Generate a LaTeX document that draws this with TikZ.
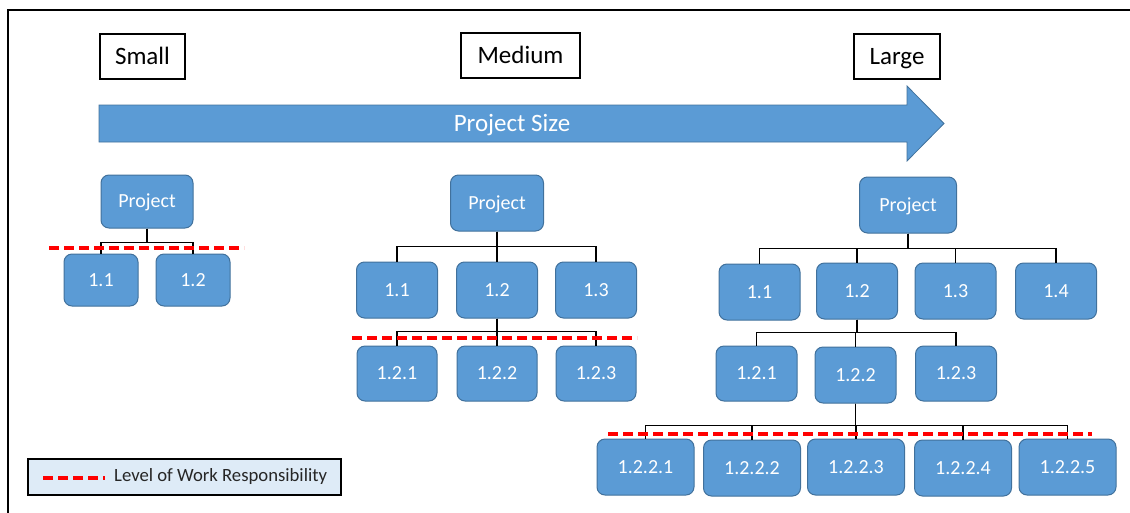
\documentclass[tikz,border=0pt]{standalone}
\usepackage{fontspec}
\setmainfont{Carlito}
\usepackage{xcolor}
\usepackage{tikz}
\usetikzlibrary{arrows.meta}
\definecolor{boxblue}{HTML}{5B9BD5}
\definecolor{boxedge}{HTML}{41719C}
\definecolor{legendblue}{HTML}{DEEBF7}

\begin{document}
\begin{tikzpicture}[x=1pt, y=-1pt,
    wbs/.style={draw=boxedge, fill=boxblue, rounded corners=8pt, line width=1pt,
      text=white, inner sep=0pt, font=\fontsize{20}{24}\selectfont,
      text height=14pt, text depth=1.4pt,
      minimum width=81pt, minimum height=56pt},
    sizebox/.style={draw=black, line width=1.3pt, inner sep=0pt,
      font=\fontsize{25}{30}\selectfont, text height=17.5pt, text depth=1.5pt,
      minimum height=45pt},
    bus/.style={draw=black, line width=1.4pt},
    resp/.style={draw=red, line width=3.2pt, dash pattern=on 10pt off 5pt}]
    \useasboundingbox (0,0) rectangle (1130,512);
    \draw[line width=1.3pt] (8,520) -- (8,10) -- (1140,10);

    % size scale
    \node[sizebox, minimum width=85pt] (small) at (142.5,56.5) {Small};
    \node[sizebox, minimum width=119pt] (medium) at (520.5,55.5) {Medium};
    \node[sizebox, minimum width=86pt] (large) at (897,56.5) {Large};
    \draw[fill=boxblue, draw=boxedge, line width=0.8pt]
      (99,105) -- (907,105) -- (907,86) -- (944,123.5) -- (907,161)
      -- (907,142) -- (99,142) -- cycle;
    \node[text=white, font=\fontsize{25}{30}\selectfont] (size) at (512,125) {Project Size};

    % small project
    \node[wbs, minimum width=92pt, minimum height=53pt] (S0) at (147,201.5) {Project};
    \node[wbs, minimum width=74pt, minimum height=52pt] (S1) at (101,280) {1.1};
    \node[wbs, minimum width=74pt, minimum height=52pt] (S2) at (193,280) {1.2};
    \path[bus] (S0.south) -- ++(0,14) -| (S1.north);
    \path[bus] (S0.south) -- ++(0,14) -| (S2.north);
    \coordinate (s1) at (49,248);
    \coordinate (s2) at (244,248);
    \path[resp] (s1) -- (s2);

    % medium project
    \node[wbs, minimum width=93pt] (M0) at (497,203) {Project};
    \node[wbs] (M1) at (397,290) {1.1};
    \node[wbs] (M2) at (497,290) {1.2};
    \node[wbs] (M3) at (596,290) {1.3};
    \node[wbs, minimum width=80pt, minimum height=55pt] (M21) at (397,373.5) {1.2.1};
    \node[wbs, minimum width=80pt, minimum height=55pt] (M22) at (497,373.5) {1.2.2};
    \node[wbs, minimum width=80pt, minimum height=55pt] (M23) at (596,373.5) {1.2.3};
    \foreach \c in {M1,M2,M3}
      \path[bus] (M0.south) -- ++(0,15) -| (\c.north);
    \foreach \c in {M21,M22,M23}
      \path[bus] (M2.south) -- ++(0,13) -| (\c.north);
    \coordinate (m1) at (352,338);
    \coordinate (m2) at (637,338);
    \path[resp] (m1) -- (m2);

    % large project
    \node[wbs, minimum width=97pt] (L0) at (908,205) {Project};
    \node[wbs] (L1) at (759.5,292) {1.1};
    \node[wbs] (L2) at (857,291) {1.2};
    \node[wbs] (L3) at (955.5,291) {1.3};
    \node[wbs] (L4) at (1056,291) {1.4};
    \node[wbs, minimum height=55pt] (L21) at (756.5,373.5) {1.2.1};
    \node[wbs] (L22) at (855.5,375) {1.2.2};
    \node[wbs, minimum height=55pt] (L23) at (956,373.5) {1.2.3};
    \node[wbs, minimum width=97pt] (L221) at (645.5,467) {1.2.2.1};
    \node[wbs, minimum width=97pt] (L222) at (752,468) {1.2.2.2};
    \node[wbs, minimum width=97pt] (L223) at (856,467) {1.2.2.3};
    \node[wbs, minimum width=97pt] (L224) at (963,468) {1.2.2.4};
    \node[wbs, minimum width=97pt] (L225) at (1067.5,467) {1.2.2.5};
    \foreach \c in {L1,L2,L3,L4}
      \path[bus] (L0.south) -- ++(0,15) -| (\c.north);
    \foreach \c in {L21,L22,L23}
      \path[bus] (L2.south) -- ++(0,13) -| (\c.north);
    \foreach \c in {L221,L222,L223,L224,L225}
      \path[bus] (L22.south) -- ++(0,22) -| (\c.north);
    \coordinate (l1) at (608,434);
    \coordinate (l2) at (1092,434);
    \path[resp] (l1) -- (l2);

    % legend
    \node[draw=black, fill=legendblue, line width=1.3pt, minimum width=313pt,
      minimum height=36pt, inner sep=0pt] (legend) at (184.5,477) {};
    \coordinate (k1) at (43,478);
    \coordinate (k2) at (105,478);
    \path[resp] (k1) -- (k2);
    \node[anchor=west, inner sep=0pt, font=\fontsize{18.7}{22}\selectfont,
      text=black!85] (keytext) at (114,477) {Level of Work Responsibility};
\end{tikzpicture}
\end{document}
